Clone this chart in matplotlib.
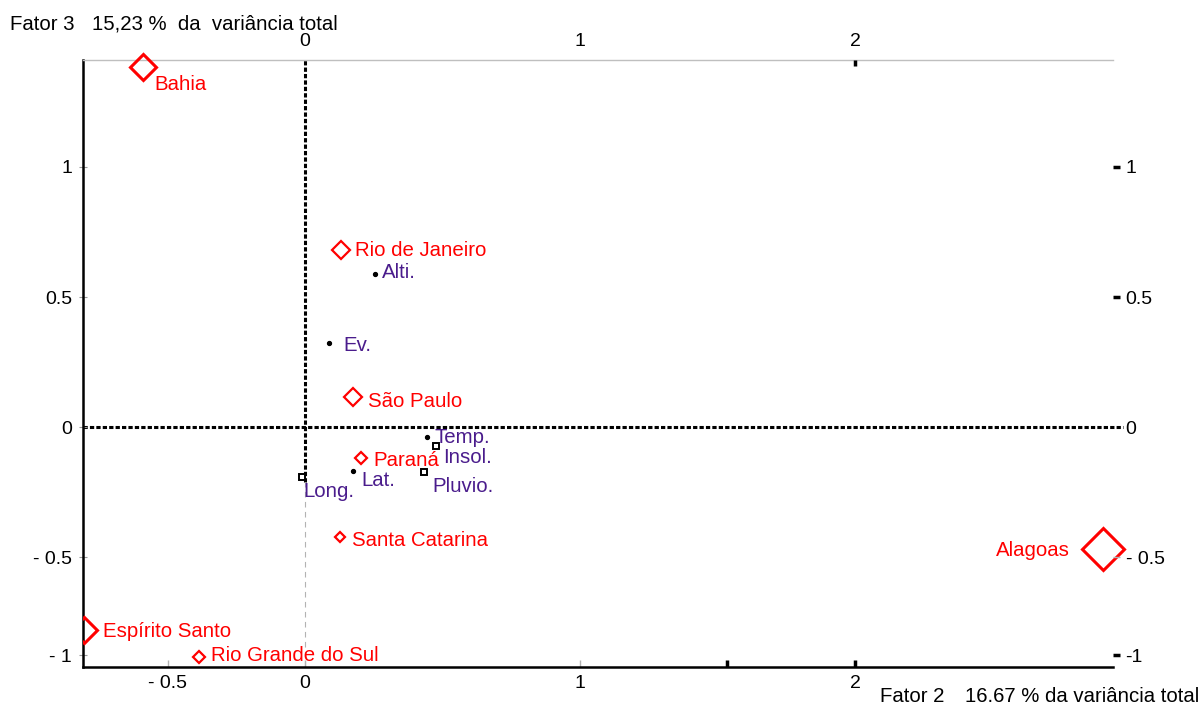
import matplotlib.pyplot as plt

plt.rcParams['font.family'] = ['Liberation Sans', 'DejaVu Sans']

# coordenadas dos estados nos fatores 2 e 3
estados = ['Bahia', 'Rio de Janeiro', 'São Paulo', 'Paraná', 'Santa Catarina',
           'Alagoas', 'Espírito Santo', 'Rio Grande do Sul']
estados_f2 = [-0.589, 0.131, 0.175, 0.204, 0.127, 2.902, -0.804, -0.387]
estados_f3 = [1.385, 0.681, 0.115, -0.119, -0.423, -0.471, -0.781, -0.883]

# coordenadas das variáveis
variaveis = ['Alti.', 'Ev.', 'Temp.', 'Insol.', 'Lat.', 'Pluvio.', 'Long.']
variaveis_f2 = [0.255, 0.087, 0.444, 0.476, 0.175, 0.433, -0.011]
variaveis_f3 = [0.588, 0.323, -0.038, -0.073, -0.169, -0.173, -0.192]

x_ticks = [-0.5, 0, 1, 2]
x_labels = ['- 0.5', '0', '1', '2']
x_top_ticks = [0, 1, 2]
x_top_labels = ['0', '1', '2']
y_ticks = [1, 0.5, 0, -0.5, -0.877]
y_left_labels = ['1', '0.5', '0', '- 0.5', '- 1']
y_right_labels = ['1', '0.5', '0', '- 0.5', '-1']

titulo_f3 = ('Fator 3', '15,23 %  da  variância total')
titulo_f2 = ('Fator 2', '16.67 % da variância total')

# tamanho do losango (qualidade de representação) e posição dos rótulos
tam_estado = {'Bahia': 13, 'Rio de Janeiro': 9, 'São Paulo': 9, 'Paraná': 6.5,
              'Santa Catarina': 5.3, 'Alagoas': 21, 'Espírito Santo': 13,
              'Rio Grande do Sul': 6}
desloc = {'Bahia': (11, -23), 'Rio de Janeiro': (14, -6), 'São Paulo': (15, -10),
          'Paraná': (12, -8), 'Santa Catarina': (12, -9), 'Alagoas': (-33, -7),
          'Espírito Santo': (19, -7), 'Rio Grande do Sul': (12, -4),
          'Alti.': (7, -4), 'Ev.': (14, -8), 'Temp.': (7, -6), 'Insol.': (7, -17),
          'Lat.': (8, -15), 'Pluvio.': (8, -20), 'Long.': (1, -20)}
quadrados = {'Insol.', 'Pluvio.', 'Long.'}

VERMELHO = '#ff0000'
ROXO = '#4a1c8c'
FS = 14.7
FS_TICK = 14


def estilo_tick(linha, cor, largura):
    linha.set_color(cor)
    linha.set_markeredgecolor(cor)
    linha.set_markeredgewidth(largura)


W, H = 1203, 706
fig = plt.figure(figsize=(W / 100, H / 100), dpi=100)
ax = fig.add_axes([83 / W, 39 / H, 1030 / W, 607 / H])
xlim = (-0.8073, 2.938)
ylim = (-0.923, 1.4115)
ax.set_xlim(*xlim)
ax.set_ylim(*ylim)

# eixos de referência tracejados
ax.axhline(0, xmin=0, xmax=1.0097, color='black', lw=2.2,
           ls=(0, (1.4, 0.7)), clip_on=False, zorder=1)
ax.axvline(0, ymin=0.305, ymax=1, color='black', lw=2.2,
           ls=(0, (1.4, 0.7)), zorder=1)
ax.axvline(0, ymin=0, ymax=0.305, color='0.7', lw=0.8,
           ls=(0, (5, 4)), zorder=1)

# estados
for nome, x, y in zip(estados, estados_f2, estados_f3):
    lw = 2.2 if tam_estado[nome] > 10 else 1.6
    ax.plot(x, y, marker='D', ms=tam_estado[nome], mfc='none', mec=VERMELHO,
            mew=lw, ls='none', clip_on=(nome == 'Espírito Santo'), zorder=3)
    dx, dy = desloc[nome]
    ax.annotate(nome, (x, y), xytext=(dx, dy), textcoords='offset pixels',
                ha='right' if dx < 0 else 'left', va='baseline',
                color=VERMELHO, fontsize=FS)

# variáveis
for nome, x, y in zip(variaveis, variaveis_f2, variaveis_f3):
    if nome in quadrados:
        ax.plot(x, y, marker='s', ms=4.3, mfc='white', mec='black', mew=1.4,
                ls='none', zorder=4)
    else:
        ax.plot(x, y, marker='o', ms=2.8, color='black', ls='none', zorder=4)
    dx, dy = desloc[nome]
    ax.annotate(nome, (x, y), xytext=(dx, dy), textcoords='offset pixels',
                ha='left', va='baseline', color=ROXO, fontsize=FS)

# molduras
for lado in ('left', 'bottom'):
    ax.spines[lado].set_linewidth(1.8)
    ax.spines[lado].set_color('black')
ax.spines['top'].set_color('0.75')
ax.spines['top'].set_linewidth(1.0)
ax.spines['right'].set_visible(False)

# eixo inferior
ax.set_xticks(x_ticks, x_labels)
ax.set_xticks([1.535], minor=True)
ax.tick_params(axis='x', which='major', direction='in', length=5, width=1,
               color='0.7', labelsize=FS_TICK, pad=6)
ax.tick_params(axis='x', which='minor', direction='in', length=5, width=2.5,
               color='black')
xt = ax.xaxis.get_major_ticks()
xt[1].tick1line.set_visible(False)
xt[2].tick1line.set_visible(False)
estilo_tick(xt[3].tick1line, 'black', 2.5)

# eixo esquerdo
ax.set_yticks(y_ticks, y_left_labels)
ax.tick_params(axis='y', direction='inout', length=6, width=0.8, color='0.6',
               labelsize=FS_TICK, pad=5)

# eixo direito
ax_r = ax.twinx()
ax_r.set_ylim(*ylim)
ax_r.set_yticks(y_ticks, y_right_labels)
ax_r.tick_params(axis='y', direction='out', length=5, width=2.5, color='black',
                 labelsize=FS_TICK, pad=4)
rt = ax_r.yaxis.get_major_ticks()
rt[2].tick2line.set_visible(False)
estilo_tick(rt[3].tick2line, '0.7', 1)
for s in ax_r.spines.values():
    s.set_visible(False)

# eixo superior
ax_t = ax.twiny()
ax_t.set_xlim(*xlim)
ax_t.set_xticks(x_top_ticks, x_top_labels)
ax_t.tick_params(axis='x', direction='in', length=4.5, width=2.5, color='black',
                 labelsize=FS_TICK, pad=7)
tt = ax_t.xaxis.get_major_ticks()
tt[0].tick2line.set_visible(False)
tt[1].tick2line.set_visible(False)
for s in ax_t.spines.values():
    s.set_visible(False)

# títulos dos fatores
fig.text(10 / W, 1 - 30 / H, titulo_f3[0], fontsize=FS, va='baseline')
fig.text(92 / W, 1 - 30 / H, titulo_f3[1], fontsize=FS, va='baseline')
fig.text(880 / W, 1 - 702 / H, titulo_f2[0], fontsize=FS, va='baseline')
fig.text(965 / W, 1 - 702 / H, titulo_f2[1], fontsize=FS, va='baseline')

fig.savefig('out.png', dpi=100)
